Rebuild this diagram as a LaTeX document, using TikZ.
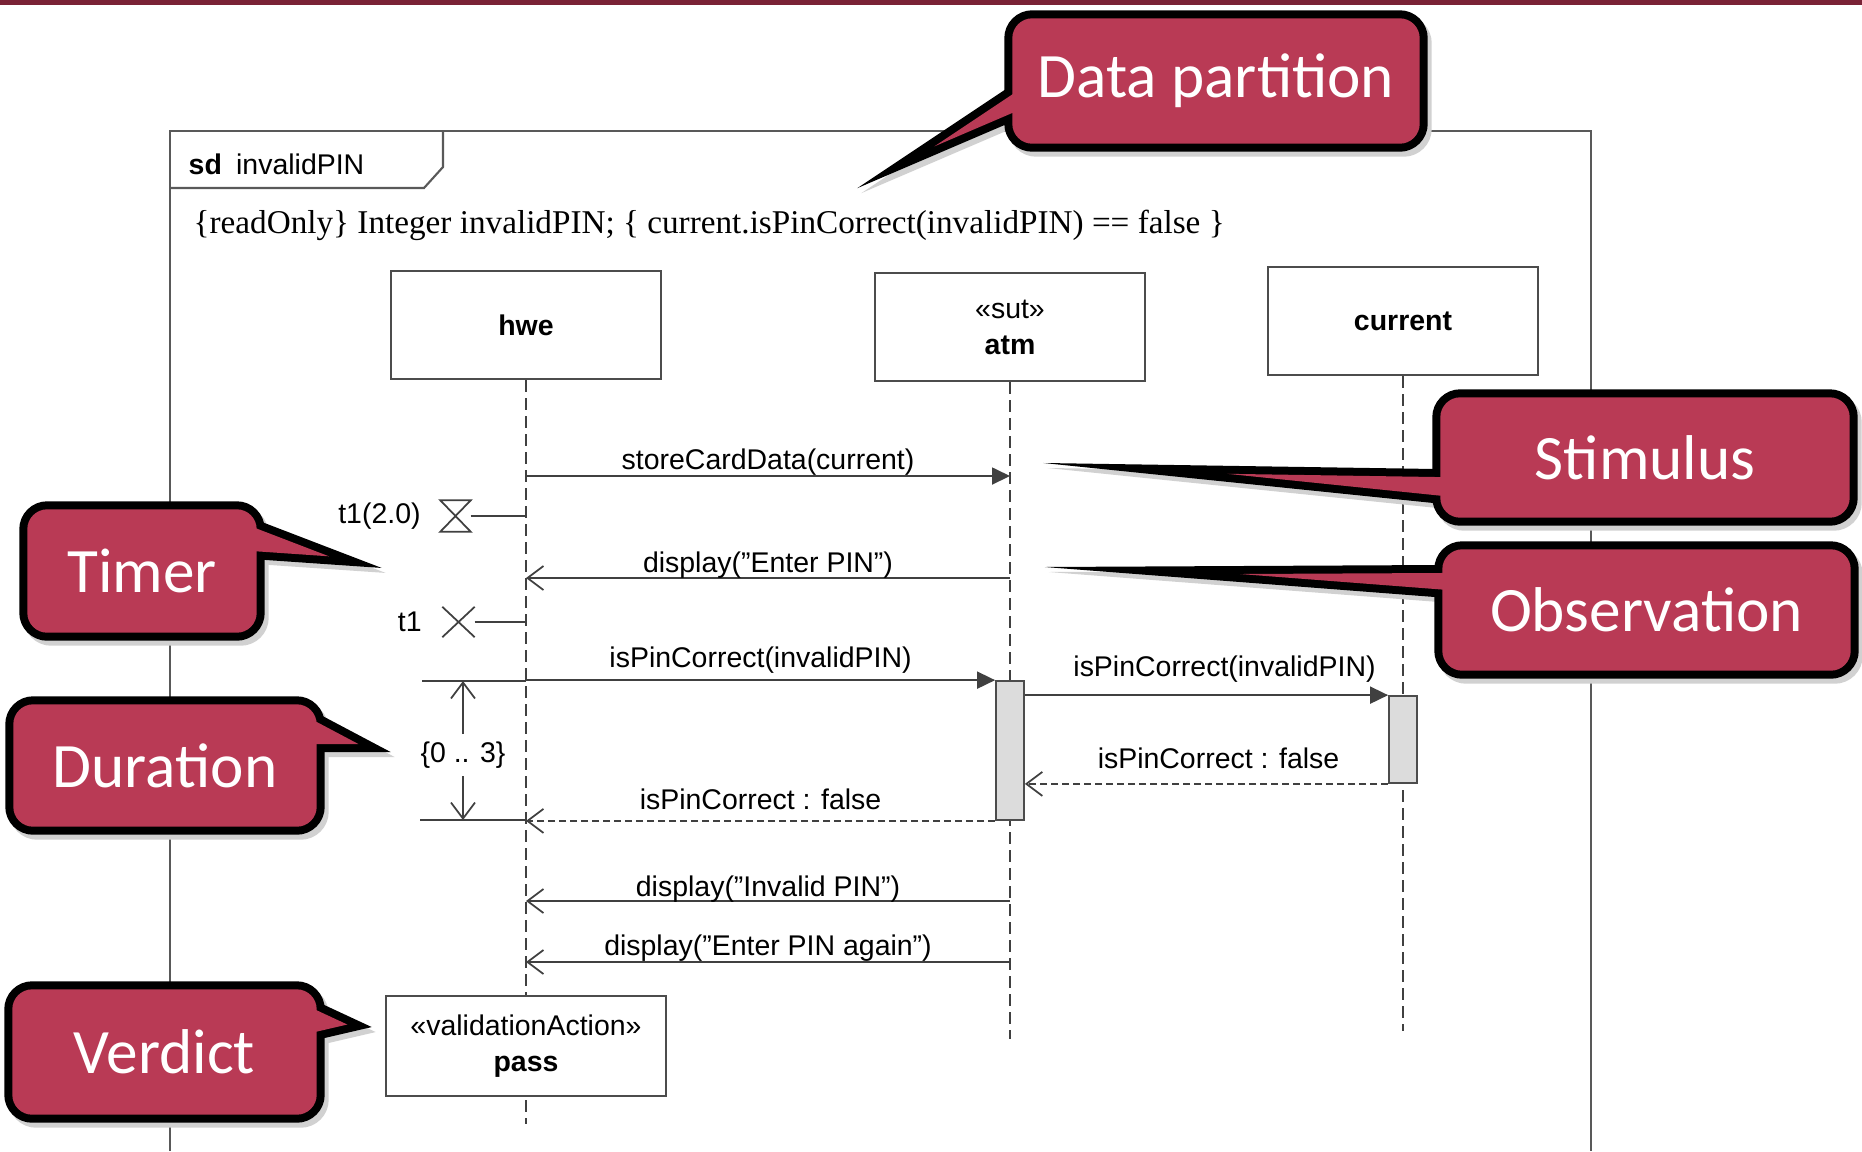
\documentclass[tikz,border=0pt]{standalone}
\usepackage{fontspec}
\setmainfont{Liberation Sans}
\newfontfamily\timesface{Liberation Serif}
\newfontfamily\calloutface{Carlito}
\usetikzlibrary{positioning,calc,arrows.meta}

\definecolor{calloutred}{RGB}{185,58,85}
\definecolor{slidebar}{RGB}{122,34,54}
\definecolor{focusgray}{RGB}{220,220,220}

\pgfdeclarelayer{balloon}
\pgfdeclarelayer{balloontext}
\pgfsetlayers{main,balloon,balloontext}

\begin{document}
\begin{tikzpicture}[font=\fontsize{8.1}{10.2}\selectfont,
    sdframe/.style={draw=black!65, line width=0.6pt},
    thinline/.style={draw=black!75, line width=0.5pt},
    lifehead/.style={draw=black!70, fill=white, line width=0.6pt,
      minimum width=2.7cm, minimum height=1.08cm, align=center},
    lifeline/.style={draw=black!75, line width=0.5pt, dash pattern=on 0.12cm off 0.06cm},
    activation/.style={draw=black!70, fill=focusgray, line width=0.5pt,
      minimum width=0.28cm, inner sep=0pt},
    call/.style={thinline, -{Triangle[length=0.18cm,width=0.17cm]}},
    reply/.style={thinline, -{Straight Barb[length=0.16cm,width=0.24cm]}},
    answer/.style={reply, dash pattern=on 0.07cm off 0.04cm},
    msglabel/.style={midway, above, inner sep=0pt},
    timermark/.style={minimum width=0.29cm, minimum height=0.3cm, inner sep=0pt},
    balloon/.style={inner sep=0pt, text=white, font=\calloutface\fontsize{18}{22}\selectfont},
    balloonshade/.style={transform canvas={shift={(0.04,-0.05)}},
      fill=black!18, draw=black!18, line width=0.16cm, miter limit=30},
    balloonrim/.style={draw=black, line width=0.16cm, miter limit=30},
    balloonface/.style={fill=calloutred}
  ]
  \useasboundingbox (0,0) rectangle (18.62,-11.51);
  \fill[slidebar] (0,0) rectangle (18.62,-0.045);

  % sd frame and its header
  \draw[sdframe] (1.70,-11.51) -- (1.70,-1.31) -- (15.91,-1.31) -- (15.91,-11.51);
  \draw[sdframe] (1.70,-1.88) -- (4.24,-1.88) -- (4.43,-1.67) -- (4.43,-1.31);
  \node[anchor=west, inner sep=0pt] (sdname) at (1.88,-1.64) {\textbf{sd}\enspace invalidPIN};
  \node[anchor=west, inner sep=0pt, font=\timesface\fontsize{9.45}{11}\selectfont] (partition) at (1.93,-2.25)
    {\{readOnly\} Integer invalidPIN; \{ current.isPinCorrect(invalidPIN) == false \}};

  % lifelines
  \node[lifehead] (hwe) at (5.26,-3.25) {\textbf{hwe}};
  \node[lifehead] (atm) at (10.10,-3.27) {«sut»\\\textbf{atm}};
  \node[lifehead] (current) at (14.03,-3.21) {\textbf{current}};
  \coordinate (hwe-end) at (5.26,-11.24);
  \coordinate (atm-end) at (10.10,-10.39);
  \coordinate (current-end) at (14.03,-10.31);
  \draw[lifeline] (hwe) -- (hwe-end);
  \draw[lifeline] (atm) -- (atm-end);
  \draw[lifeline] (current) -- (current-end);

  \node[activation, minimum height=1.39cm] (atmfocus) at (atm |- 0,-7.505) {};
  \node[activation, minimum height=0.87cm] (curfocus) at (current |- 0,-7.395) {};

  % messages
  \coordinate (m-store) at (0,-4.76);
  \coordinate (m-enter) at (0,-5.78);
  \coordinate (m-invalid) at (0,-9.01);
  \coordinate (m-again) at (0,-9.62);
  \draw[call] (hwe |- m-store) -- (atm |- m-store) node[msglabel] {storeCardData(current)};
  \draw[reply] (atm |- m-enter) -- (hwe |- m-enter) node[msglabel, yshift=-0.3pt] {display(”Enter PIN”)};
  \draw[call] (hwe |- atmfocus.north) -- (atmfocus.north west)
    node[msglabel, yshift=1.7pt] {isPinCorrect(invalidPIN)};
  \draw[call] (atmfocus.east |- curfocus.north) -- (curfocus.north west)
    node[msglabel, yshift=3.3pt, xshift=0.18cm] {isPinCorrect(invalidPIN)};
  \draw[answer] (curfocus.south west) -- (atmfocus.east |- curfocus.south)
    node[msglabel, yshift=4pt, xshift=0.12cm] {isPinCorrect : false};
  \draw[answer] (atmfocus.south west) -- (hwe |- atmfocus.south)
    node[msglabel, yshift=3pt] {isPinCorrect : false};
  \draw[reply] (atm |- m-invalid) -- (hwe |- m-invalid) node[msglabel, yshift=-0.7pt] {display(”Invalid PIN”)};
  \draw[reply] (atm |- m-again) -- (hwe |- m-again) node[msglabel] {display(”Enter PIN again”)};

  % timer t1
  \node[timermark] (t1set) at (4.555,-5.16) {};
  \draw[thinline] (t1set.north west) -- (t1set.north east) -- (t1set.south west) -- (t1set.south east) -- cycle;
  \draw[thinline] (t1set.east) -- (hwe |- t1set);
  \node[left=0.19cm of t1set, inner sep=0pt] (t1setlabel) {t1(2.0)};
  \node[timermark, minimum width=0.31cm, minimum height=0.29cm] (t1out) at (4.585,-6.22) {};
  \draw[thinline] (t1out.north west) -- (t1out.south east) (t1out.north east) -- (t1out.south west);
  \draw[thinline] (t1out.east) -- (hwe |- t1out);
  \node[left=0.2cm of t1out, inner sep=0pt] (t1outlabel) {t1};

  % duration constraint
  \coordinate (durtop) at (4.22,-6.81);
  \coordinate (durbot) at (4.20,-8.20);
  \draw[thinline] (durtop) -- (hwe |- durtop);
  \draw[thinline] (durbot) -- (hwe |- durbot);
  \node[inner sep=2pt] (durlabel) at (4.63,-7.55) {\{0 .. 3\}};
  \draw[reply] (durlabel) -- (durlabel |- durtop);
  \draw[reply] (durlabel) -- (durlabel |- durbot);

  % verdict
  \node[lifehead, minimum width=2.80cm, minimum height=1.0cm] (pass) at (hwe |- 0,-10.46)
    {«validationAction»\\\textbf{pass}};

  % callouts
  \begin{pgfonlayer}{balloontext}
    \node[balloon, minimum width=2.28cm, minimum height=1.22cm] (timer) at (1.42,-5.71) {Timer};
    \node[balloon, minimum width=3.02cm, minimum height=1.21cm] (duration) at (1.65,-7.655) {Duration};
    \node[balloon, minimum width=3.03cm, minimum height=1.24cm] (verdict) at (1.645,-10.52) {Verdict};
    \node[balloon, minimum width=4.06cm, minimum height=1.24cm] (datapart) at (12.16,-0.81) {Data partition};
    \node[balloon, minimum width=4.08cm, minimum height=1.19cm] (stimulus) at (16.45,-4.575) {Stimulus};
    \node[balloon, minimum width=4.07cm, minimum height=1.20cm] (observation) at (16.465,-6.10) {Observation};
  \end{pgfonlayer}
  \coordinate (timer-tip) at (3.29,-5.563);
  \coordinate (duration-tip) at (3.584,-7.44);
  \coordinate (verdict-tip) at (3.473,-10.245);
  \coordinate (datapart-tip) at (9.343,-1.464);
  \coordinate (stimulus-tip) at (12.273,-4.738);
  \coordinate (observation-tip) at (12.402,-5.74);

  \begin{pgfonlayer}{balloon}
    \foreach \look in {balloonshade, balloonrim, balloonface}
      \foreach \n/\s/\i/\u/\v in {timer/east/-0.15/0.482/0.207, duration/east/-0.15/0.515/0.215,
          verdict/east/-0.15/0.487/0.169, datapart/west/0.15/-0.034/-0.255,
          stimulus/west/0.15/-0.198/-0.397, observation/west/0.15/0.371/0.193}
      {
        \path[\look, rounded corners=0.2cm] (\n.north west) rectangle (\n.south east);
        \path[\look] ($(\n.\s)+(\i,\u)$) -- (\n-tip) -- ($(\n.\s)+(\i,\v)$) -- cycle;
      }
  \end{pgfonlayer}
\end{tikzpicture}
\end{document}
